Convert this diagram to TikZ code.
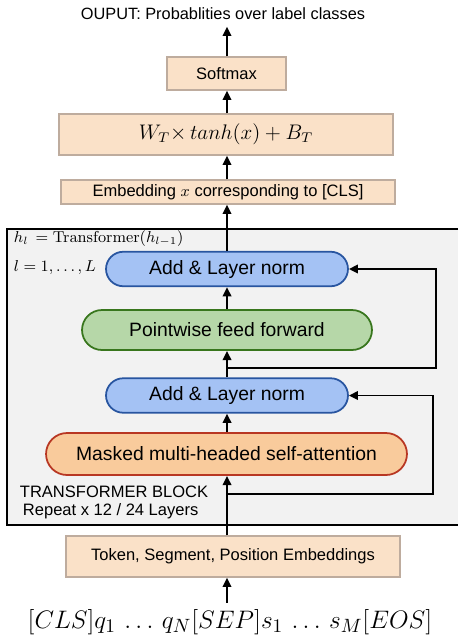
\documentclass[tikz,border=0pt]{standalone}
\usepackage[no-math]{fontspec}
\setmainfont{Liberation Sans}
\usepackage{amssymb}
\usetikzlibrary{shapes.misc, arrows.meta}

\definecolor{peach}{RGB}{250,225,200}
\definecolor{peachline}{RGB}{190,172,158}
\definecolor{blockgray}{RGB}{242,242,242}
\definecolor{normblue}{RGB}{164,194,244}
\definecolor{normline}{RGB}{40,85,160}
\definecolor{ffgreen}{RGB}{182,215,168}
\definecolor{ffline}{RGB}{56,118,29}
\definecolor{attnorange}{RGB}{249,203,156}
\definecolor{attnline}{RGB}{184,55,35}

\begin{document}
\begin{tikzpicture}[x=0.02cm, y=-0.02cm, -{Triangle[length=5.2pt,width=4.8pt]}, line width=1.1pt,
		box/.style={draw=peachline, fill=peach, line width=0.8pt, inner sep=0pt, font=\fontsize{9.4}{11}\selectfont},
		pill/.style={draw, shape=rounded rectangle, line width=1pt, inner sep=0pt, font=\fontsize{11}{13}\selectfont},
		norm/.style={pill, draw=normline, fill=normblue, minimum width=4.84cm, minimum height=0.69cm}]
		\useasboundingbox (0,0) rectangle (458,635);
		% transformer block
		\fill[blockgray] (7,229) rectangle (458,525);
		\draw[-, line width=1.2pt] (458,229) -- (7,229) -- (7,525) -- (458,525);
		\node (hl)  [anchor=west, inner sep=0pt, font=\fontsize{9}{11}\selectfont] at (13,239) {$h_l\,=\mathrm{Transformer}(h_{l-1})$};
		\node (ll)  [anchor=west, inner sep=0pt, font=\fontsize{9}{11}\selectfont] at (13,268) {$l = 1, \ldots, L$};
		\node (tb)  [anchor=west, inner sep=0pt, font=\fontsize{9.4}{11}\selectfont] at (19,492) {TRANSFORMER BLOCK};
		\node (rep) [anchor=west, inner sep=0pt, font=\fontsize{9.4}{11}\selectfont] at (22,511) {Repeat x 12 / 24 Layers};
		% nodes
		\node (out)  [font=\fontsize{9.3}{11}\selectfont] at (223,14) {OUPUT: Probablities over label classes};
		\node (soft) [box, minimum width=2.38cm, minimum height=0.66cm] at (226.5,73.5) {Softmax};
		\node (lin)  [box, minimum width=6.68cm, minimum height=0.82cm, font=\fontsize{12}{14}\selectfont] at (226,134.5) {$W_T{\times}\, tanh(x) + B_T$};
		\node (emb)  [box, minimum width=6.68cm, minimum height=0.48cm] at (228,192) {Embedding $x$ corresponding to [CLS]};
		\node (add2) [norm] at (227,269) {Add \& Layer norm};
		\node (ff)   [pill, draw=ffline, fill=ffgreen, minimum width=5.8cm, minimum height=0.8cm] at (227,330) {Pointwise feed forward};
		\node (add1) [norm] at (227,395.5) {Add \& Layer norm};
		\node (attn) [pill, draw=attnline, fill=attnorange, minimum width=7.22cm, minimum height=0.84cm] at (226.5,454) {Masked multi-headed self-attention};
		\node (tok)  [box, minimum width=6.68cm, minimum height=0.82cm] at (233,556.5) {Token, Segment, Position Embeddings};
		\node (seq)  [font=\fontsize{15}{18}\selectfont] at (230,622) {$[CLS]q_1\,\ldots\, q_N[SEP]s_1\,\ldots\, s_M[EOS]$};
		\coordinate (r1) at (227,368);
		\coordinate (r2) at (227,494);
		% connectors
		\draw (seq.north -| r2) -- (tok.south -| r2);
		\draw (tok.north -| r2) -- (attn.south -| r2);
		\draw (attn.north -| r2) -- (add1.south -| r2);
		\draw (add1.north -| r1) -- (ff.south -| r1);
		\draw (ff.north -| r1) -- (add2.south -| r1);
		\draw (add2.north -| r1) -- (emb.south -| r1);
		\draw (emb.north -| r1) -- (lin.south -| r1);
		\draw (lin.north -| r1) -- (soft.south -| r1);
		\draw (soft.north -| r1) -- (out.south -| r1);
		\draw (r1) -- ++(209,0) |- (add2.east);
		\draw (r2) -- ++(206,0) |- (add1.east);
\end{tikzpicture}
\end{document}
